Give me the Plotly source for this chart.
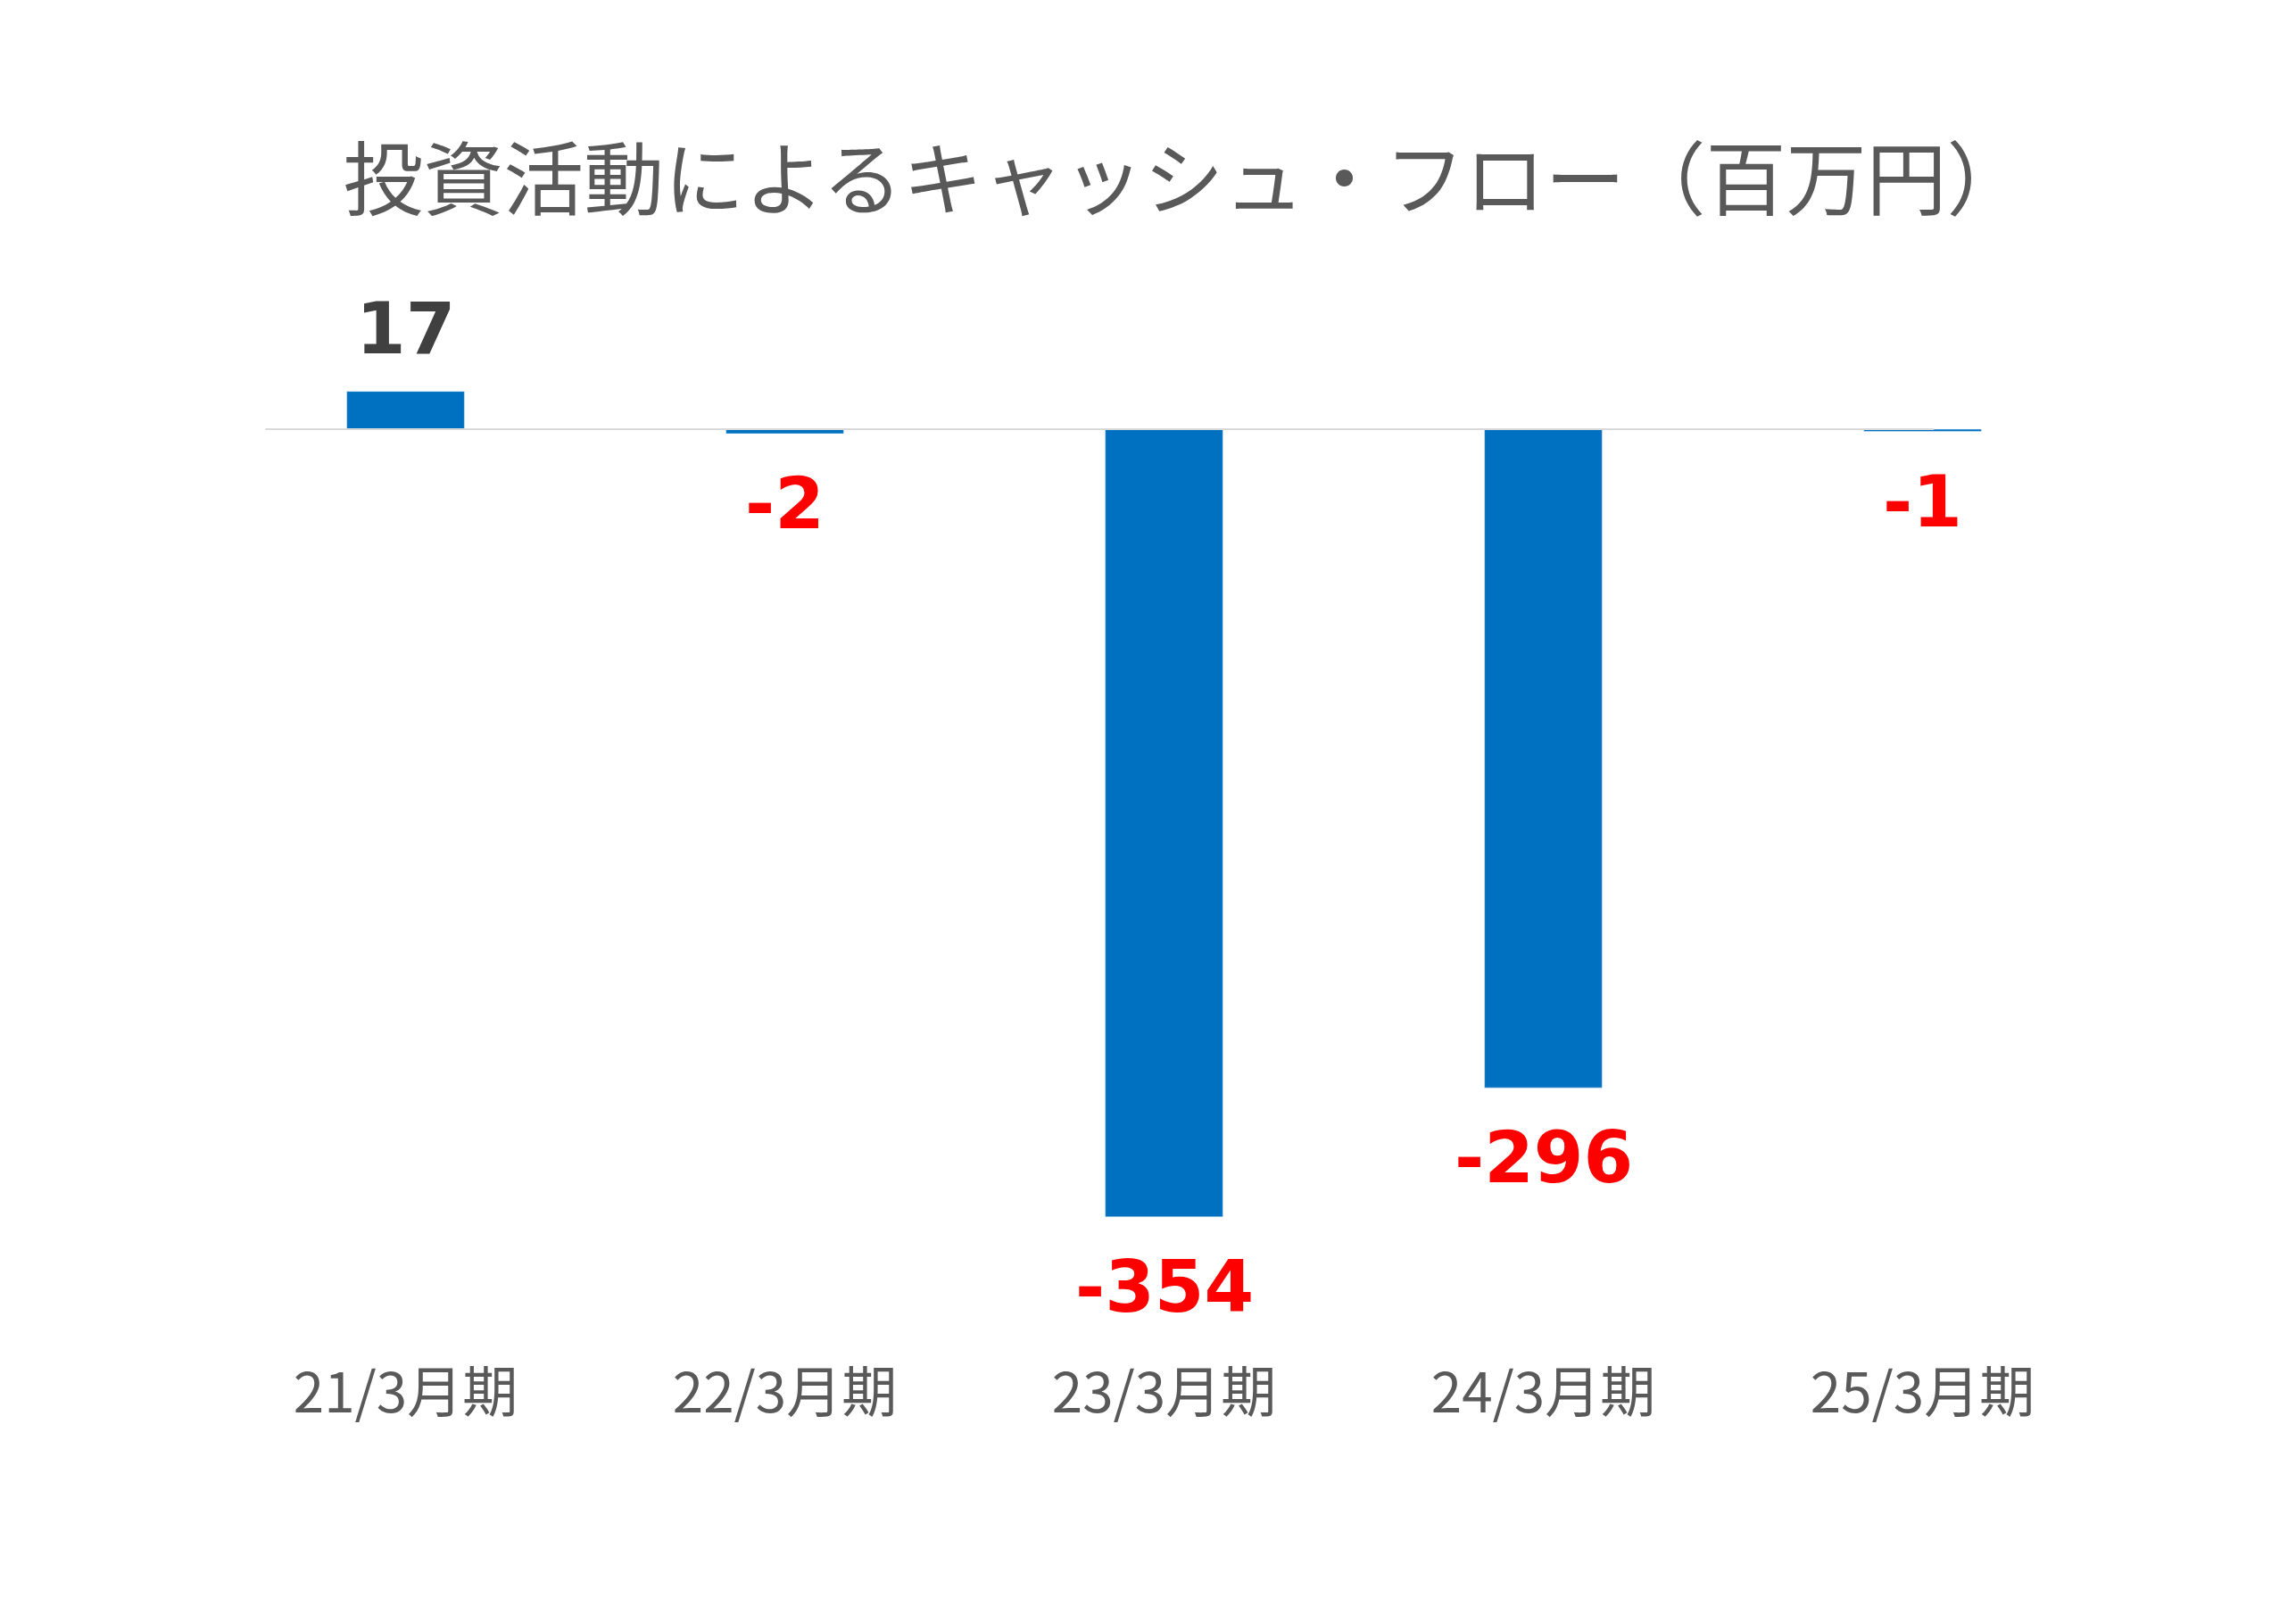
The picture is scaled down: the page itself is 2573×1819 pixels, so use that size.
import plotly.graph_objects as go

periods = ["21/3月期", "22/3月期", "23/3月期", "24/3月期", "25/3月期"]
values = [17, -2, -354, -296, -1]
labels = ["17", "-2", "-354", "-296", "-1"]

fig = go.Figure(go.Bar(
    x=periods, y=values, marker_color="#0070c0", width=0.31,
))

# data labels as annotations so they keep one size
for p, v, t in zip(periods, values, labels):
    fig.add_annotation(
        x=p, y=v, text=f"<b>{t}</b>", showarrow=False,
        yanchor="bottom" if v > 0 else "top",
        yshift=22 if v > 0 else -30,
        font=dict(family="DejaVu Sans", size=80,
                  color="#404040" if v > 0 else "#ff0000"),
    )

# baseline
fig.add_shape(type="line", xref="paper", yref="y", x0=0.026, x1=0.906, y0=0, y1=0,
              line=dict(color="#d9d9d9", width=2))

fig.update_layout(
    width=2573, height=1819,
    paper_bgcolor="white", plot_bgcolor="white",
    margin=dict(l=234, r=214, t=292, b=347),
    title=dict(text="投資活動によるキャッシュ・フロー（百万円）", x=0.513, y=0.893,
               xanchor="center", yanchor="middle",
               font=dict(family="Noto Sans CJK JP", size=90, color="#595959")),
    showlegend=False,
)
fig.update_xaxes(showline=False, showgrid=False, ticks="",
                 tickfont=dict(family="Noto Sans CJK JP", size=62, color="#595959"),
                 ticklabelstandoff=40)
fig.update_yaxes(range=[-400.6, 72.6], showticklabels=False,
                 showgrid=False, zeroline=False)

fig.write_html("out.html")
